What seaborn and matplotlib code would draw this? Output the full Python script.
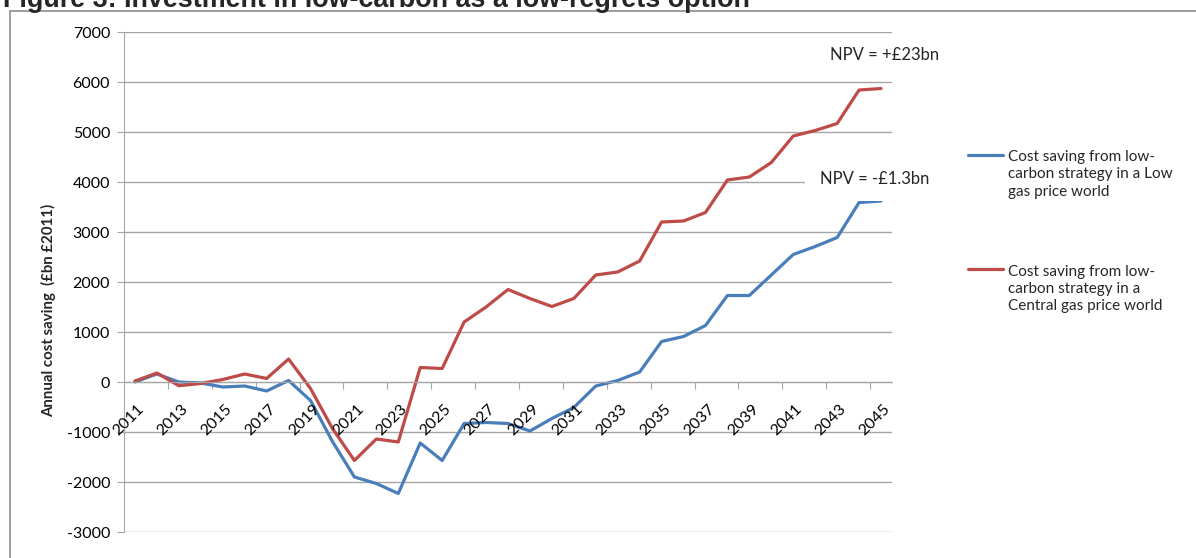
import numpy as np
import pandas as pd
import matplotlib.pyplot as plt
import seaborn as sns
from matplotlib.patches import Rectangle
from matplotlib.lines import Line2D
from matplotlib.legend_handler import HandlerLine2D

# Data
years = list(range(2011, 2046))
low_gas = [0, 160, 0, -20, -100, -80, -180, 30, -370, -1190, -1900, -2030, -2230,
           -1220, -1570, -830, -810, -830, -980, -730, -510, -80, 30, 200, 810,
           910, 1130, 1730, 1730, 2140, 2550, 2710, 2890, 3590, 3620]
central_gas = [20, 180, -75, -30, 50, 160, 70, 460, -130, -930, -1570, -1140, -1200,
               290, 270, 1200, 1500, 1850, 1670, 1510, 1670, 2140, 2200, 2420, 3200,
               3220, 3390, 4040, 4100, 4390, 4920, 5030, 5170, 5840, 5870]
series_names = ["Cost saving from low-\ncarbon strategy in a Low\ngas price world",
                "Cost saving from low-\ncarbon strategy in a\nCentral gas price world"]
colors = ["#4A7EBB", "#BE4B48"]
label_years = years[::2]
y_ticks = list(range(-3000, 8000, 1000))

df = pd.DataFrame({
    "year": years * 2,
    "saving": low_gas + central_gas,
    "series": [series_names[0]] * len(years) + [series_names[1]] * len(years),
})


# legend line sits beside the first text line, like Excel does it
class FirstLineHandler(HandlerLine2D):
    def __init__(self, shift, **kw):
        super().__init__(**kw)
        self.shift = shift

    def create_artists(self, legend, orig_handle, xdescent, ydescent, width, height, fontsize, trans):
        arts = super().create_artists(legend, orig_handle, xdescent, ydescent, width, height, fontsize, trans)
        for a in arts:
            a.set_ydata(np.asarray(a.get_ydata(), dtype=float) + self.shift)
        return arts


sns.set_style("white")
plt.rcParams['font.family'] = ['Lato', 'DejaVu Sans']
plt.rcParams['axes.unicode_minus'] = False

grid_col = "#A6A6A6"
fs = 11.5
fig = plt.figure(figsize=(11.96, 5.58), dpi=100)
ax = fig.add_axes([124 / 1196, 26 / 558, 768 / 1196, 500 / 558])

sns.lineplot(data=df, x="year", y="saving", hue="series", palette=colors,
             linewidth=2.3, ax=ax, legend=True)

ax.set_xlim(2010.5, 2045.5)
ax.set_ylim(-3000, 7000)
ax.set_yticks(y_ticks)
ax.yaxis.grid(True, color=grid_col, linewidth=1)
ax.set_axisbelow(True)
ax.tick_params(axis='y', length=5, color=grid_col, pad=5, labelsize=fs, labelcolor='black', left=True)

# x axis crosses at zero, tick marks between categories
for s in ['top', 'right']:
    ax.spines[s].set_visible(False)
ax.spines['left'].set_color(grid_col)
ax.spines['bottom'].set_position(('data', 0))
ax.spines['bottom'].set_color(grid_col)
ax.set_xticks(np.arange(2012.5, 2045, 2))
ax.set_xticklabels([])
ax.tick_params(axis='x', length=5, color=grid_col, bottom=True, direction='out')
for yr in label_years:
    ax.annotate(str(yr), xy=(yr, 0), xytext=(5, -18), textcoords='offset points',
                rotation=45, rotation_mode='anchor', ha='right', va='center',
                fontsize=fs, color='black', annotation_clip=False)

ax.set_xlabel("")
ax.set_ylabel("Annual cost saving  (£bn £2011)", fontsize=10.8, fontweight='bold')
ax.yaxis.set_label_coords(-0.088, 0.444)

ax.text(2042.67, 6530, "NPV = +£23bn", fontsize=12, va='center', ha='left', clip_on=False)
ax.text(2042.2, 4070, "NPV = -£1.3bn", fontsize=12, va='center', ha='left', clip_on=False,
        bbox=dict(facecolor='white', edgecolor='none', boxstyle='square,pad=0.85'))

handles, labels = ax.get_legend_handles_labels()
leg = ax.legend(handles, labels, loc='upper left', bbox_to_anchor=(968 / 1196, 1 - 150 / 558),
                bbox_transform=fig.transFigure, frameon=False, fontsize=11,
                handlelength=2.3, handletextpad=0.33, labelspacing=4.3,
                borderpad=0, borderaxespad=0,
                handler_map={Line2D: FirstLineHandler(14.4)})
for t in leg.get_texts():
    t.set_linespacing(1.31)

fig.text(3 / 1196, 1 - 7 / 558, "Figure 3: Investment in low-carbon as a low-regrets option",
         fontsize=19.4, fontweight='bold', family='Liberation Sans', va='baseline', ha='left')
fig.add_artist(Rectangle((10 / 1196, -0.1), 1.2, 1.1 - 11 / 558, transform=fig.transFigure,
                         fill=False, edgecolor="#8C8C8C", linewidth=1.2))

plt.savefig("out.png", dpi=100)
